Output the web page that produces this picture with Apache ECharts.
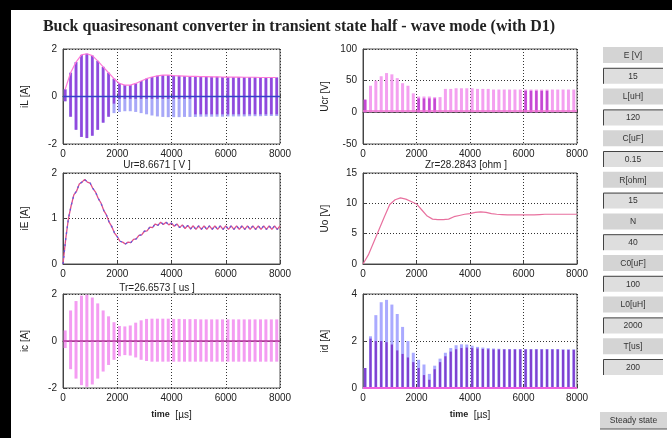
<!DOCTYPE html>
<html>
<head>
<meta charset="utf-8">
<script src="https://cdn.jsdelivr.net/npm/echarts@6/dist/echarts.min.js"></script>
<style>
  html, body { margin: 0; padding: 0; background: #fff; }
  #chart { width: 672px; height: 438px; }
</style>
</head>
<body>
<div id="chart"></div>
<script>
// one vertical stroke per switching cycle (T = 200 us)
const cycleT = [80, 280, 480, 680, 880, 1080, 1280, 1480, 1680, 1880,
  2080, 2280, 2480, 2680, 2880, 3080, 3280, 3480, 3680, 3880,
  4080, 4280, 4480, 4680, 4880, 5080, 5280, 5480, 5680, 5880,
  6080, 6280, 6480, 6680, 6880, 7080, 7280, 7480, 7680, 7880];

// iL [A] envelope
const iLHigh = [0.3, 1.0, 1.45, 1.75, 1.8, 1.72, 1.5, 1.25, 1.0, 0.75,
  0.55, 0.48, 0.48, 0.55, 0.65, 0.75, 0.82, 0.87, 0.9, 0.9,
  0.88, 0.87, 0.86, 0.85, 0.85, 0.84, 0.84, 0.83, 0.83, 0.82,
  0.82, 0.82, 0.82, 0.81, 0.81, 0.81, 0.8, 0.8, 0.8, 0.8];
const iLLow = [-0.2, -0.85, -1.4, -1.7, -1.75, -1.65, -1.4, -1.1, -0.85, -0.7,
  -0.65, -0.62, -0.62, -0.65, -0.7, -0.75, -0.8, -0.84, -0.86, -0.87,
  -0.87, -0.87, -0.86, -0.86, -0.86, -0.85, -0.85, -0.85, -0.85, -0.85,
  -0.84, -0.84, -0.84, -0.84, -0.83, -0.83, -0.83, -0.82, -0.82, -0.82];
// lower end of the purple trace
const iLLowP = [-0.2, -0.85, -1.4, -1.7, -1.75, -1.65, -1.4, -1.1, -0.85, -0.3,
  -0.1, -0.1, -0.1, -0.1, -0.1, -0.1, -0.1, -0.1, -0.1, -0.1,
  -0.1, -0.1, -0.1, -0.1, -0.75, -0.75, -0.75, -0.75, -0.75, -0.75,
  -0.75, -0.75, -0.75, -0.75, -0.75, -0.75, -0.75, -0.75, -0.75, -0.75];

// Ucr [V]
const ucHigh = [20, 42, 50, 57, 62, 60, 54, 46, 42, 30,
  25, 25, 25, 24, 24, 37, 37, 38, 38, 38,
  38, 37, 37, 37, 36, 36, 36, 36, 36, 36,
  36, 36, 36, 36, 36, 36, 36, 36, 36, 36];
const ucDark = [20, null, null, null, null, null, null, null, null, null,
  22, 22, 22, 22, null, null, null, null, null, null,
  null, null, null, null, null, null, null, null, null, null,
  34, 34, 34, 34, 34, null, null, null, null, null];
const ucBase = 2;

// iE [A], sampled every 100 us
const iETime = [0, 100, 200, 300, 400, 500, 600, 700, 800, 900,
  1000, 1100, 1200, 1300, 1400, 1500, 1600, 1700, 1800, 1900,
  2000, 2100, 2200, 2300, 2400, 2500, 2600, 2700, 2800, 2900,
  3000, 3100, 3200, 3300, 3400, 3500, 3600, 3700, 3800, 3900,
  4000, 4100, 4200, 4300, 4400, 4500, 4600, 4700, 4800, 4900,
  5000, 5100, 5200, 5300, 5400, 5500, 5600, 5700, 5800, 5900,
  6000, 6100, 6200, 6300, 6400, 6500, 6600, 6700, 6800, 6900,
  7000, 7100, 7200, 7300, 7400, 7500, 7600, 7700, 7800, 7900, 8000];
const iEValues = [0.0, 0.55, 1.0, 1.28, 1.52, 1.6, 1.76, 1.8, 1.86, 1.8,
  1.78, 1.66, 1.58, 1.44, 1.34, 1.18, 1.08, 0.92, 0.82, 0.68,
  0.6, 0.5, 0.48, 0.44, 0.48, 0.47, 0.54, 0.55, 0.63, 0.64,
  0.72, 0.73, 0.81, 0.8, 0.88, 0.85, 0.92, 0.87, 0.92, 0.86,
  0.9, 0.83, 0.88, 0.8, 0.86, 0.78, 0.85, 0.77, 0.84, 0.76,
  0.84, 0.76, 0.84, 0.76, 0.84, 0.76, 0.84, 0.76, 0.84, 0.76,
  0.84, 0.76, 0.84, 0.76, 0.84, 0.76, 0.84, 0.76, 0.84, 0.76,
  0.84, 0.76, 0.84, 0.76, 0.84, 0.76, 0.84, 0.76, 0.84, 0.76, 0.84];

// Uo [V], sampled every 200 us
const uoTime = [0, 200, 400, 600, 800, 1000, 1200, 1400, 1600, 1800,
  2000, 2200, 2400, 2600, 2800, 3000, 3200, 3400, 3600, 3800,
  4000, 4200, 4400, 4600, 4800, 5000, 5200, 5400, 5600, 5800,
  6000, 6200, 6400, 6600, 6800, 7000, 7200, 7400, 7600, 7800, 8000];
const uoValues = [0, 1.5, 3.6, 5.7, 7.8, 9.8, 10.6, 10.9, 10.7, 10.3,
  9.9, 8.9, 7.9, 7.4, 7.3, 7.3, 7.4, 7.8, 8.0, 8.2,
  8.3, 8.5, 8.6, 8.5, 8.3, 8.2, 8.15, 8.1, 8.1, 8.1,
  8.1, 8.1, 8.1, 8.15, 8.2, 8.2, 8.2, 8.2, 8.2, 8.2, 8.2];

// ic [A]
const icHigh = [0.45, 1.3, 1.7, 1.93, 1.97, 1.85, 1.6, 1.3, 1.05, 0.8,
  0.64, 0.62, 0.66, 0.78, 0.88, 0.94, 0.95, 0.95, 0.95, 0.95,
  0.94, 0.94, 0.93, 0.93, 0.93, 0.92, 0.92, 0.92, 0.92, 0.92,
  0.92, 0.92, 0.92, 0.92, 0.92, 0.92, 0.92, 0.92, 0.92, 0.92];
const icLow = [-0.3, -1.2, -1.6, -1.88, -1.95, -1.85, -1.6, -1.3, -1.02, -0.8,
  -0.65, -0.6, -0.62, -0.7, -0.8, -0.85, -0.88, -0.88, -0.88, -0.88,
  -0.88, -0.88, -0.88, -0.88, -0.88, -0.88, -0.88, -0.88, -0.88, -0.88,
  -0.88, -0.88, -0.88, -0.88, -0.88, -0.88, -0.88, -0.88, -0.88, -0.88];

// id [A]
const idBlue = [0.85, 2.2, 3.1, 3.65, 3.75, 3.55, 3.15, 2.6, 2.0, 1.5,
  1.2, 1.0, 0.6, 0.95, 1.25, 1.5, 1.7, 1.82, 1.86, 1.85,
  1.8, 1.75, 1.72, 1.7, 1.68, 1.67, 1.66, 1.66, 1.66, 1.66,
  1.66, 1.66, 1.66, 1.66, 1.66, 1.66, 1.66, 1.65, 1.65, 1.65];
const idPurple = [0.85, 2.1, 2.0, 2.0, 1.95, 1.85, 1.6, 1.45, 1.3, 1.1,
  0.85, 0.55, 0.35, 0.8, 1.1, 1.35, 1.55, 1.65, 1.7, 1.72,
  1.7, 1.68, 1.66, 1.65, 1.64, 1.64, 1.64, 1.64, 1.64, 1.64,
  1.64, 1.64, 1.64, 1.64, 1.64, 1.64, 1.64, 1.62, 1.62, 1.62];

// side panel (labels and edit boxes)
const panelTexts = ['E [V]', '15', 'L[uH]', '120', 'C[uF]', '0.15', 'R[ohm]', '15',
  'N', '40', 'C0[uF]', '100', 'L0[uH]', '2000', 'T[us]', '200'];

const xTicks = { min: 0, max: 8000, interval: 2000 };

const chart = echarts.init(document.getElementById('chart'), null, { renderer: 'canvas' });

const FONT = '"Liberation Sans", Arial, sans-serif';

// left/top/width/height of the six axes
const grids = [
  { left: 63, top: 49, width: 217, height: 95 },
  { left: 363, top: 49, width: 214, height: 95 },
  { left: 63, top: 173, width: 217, height: 91 },
  { left: 363, top: 173, width: 214, height: 91 },
  { left: 63, top: 294, width: 217, height: 94 },
  { left: 363, top: 294, width: 214, height: 94 }
];

const plain = v => String(v);

function xAxisFor(i, named) {
  return {
    type: 'value', gridIndex: i, min: xTicks.min, max: xTicks.max, interval: xTicks.interval,
    axisLine: { show: true, lineStyle: { color: '#444', width: 1 } },
    axisTick: { show: true, inside: true, length: 3, lineStyle: { color: '#444' } },
    axisLabel: { fontSize: 10, color: '#222', margin: 5, fontFamily: FONT, formatter: plain },
    splitLine: { show: true, lineStyle: { color: '#333', type: [1, 2], width: 1 } },
    name: named ? '{b|time}  [µs]' : '',
    nameLocation: 'middle', nameGap: 22,
    nameTextStyle: { fontSize: 10, color: '#222', fontFamily: FONT,
      rich: { b: { fontSize: 9, fontWeight: 'bold', color: '#222', fontFamily: FONT } } }
  };
}

function yAxisFor(i, min, max, interval, name) {
  return {
    type: 'value', gridIndex: i, min, max, interval,
    axisLine: { show: true, lineStyle: { color: '#444', width: 1 } },
    axisTick: { show: true, inside: true, length: 3, lineStyle: { color: '#444' } },
    axisLabel: { fontSize: 10, color: '#222', margin: 6, fontFamily: FONT, formatter: plain },
    splitLine: { show: true, lineStyle: { color: '#333', type: [1, 2], width: 1 } },
    name, nameLocation: 'middle', nameRotate: 90, nameGap: 33,
    nameTextStyle: { fontSize: 10, color: '#222', fontFamily: FONT }
  };
}

// vertical strokes through the axis scales
function strokes(idx, lo, hi, color, width, z) {
  return {
    type: 'custom', xAxisIndex: idx, yAxisIndex: idx, clip: true, silent: true, z,
    encode: { x: 0, y: [1, 2] },
    data: cycleT.map((t, k) => [t, Array.isArray(lo) ? lo[k] : lo, hi[k] == null ? '-' : hi[k]]),
    renderItem(params, api) {
      const a = api.value(1), b = api.value(2);
      if (isNaN(b)) return null;
      const p1 = api.coord([api.value(0), a]);
      const p2 = api.coord([api.value(0), b]);
      return {
        type: 'line',
        shape: { x1: p1[0], y1: p1[1], x2: p2[0], y2: p2[1] },
        style: { stroke: color, lineWidth: width }
      };
    }
  };
}

function flat(idx, value, color, width, z) {
  return {
    type: 'line', xAxisIndex: idx, yAxisIndex: idx, silent: true, symbol: 'none', z,
    data: [[xTicks.min, value], [xTicks.max, value]],
    lineStyle: { color, width }
  };
}

function curve(idx, times, values, color, width, type, z) {
  return {
    type: 'line', xAxisIndex: idx, yAxisIndex: idx, silent: true, symbol: 'none', z,
    data: times.map((t, k) => [t, values[k]]),
    lineStyle: { color, width, type: type || 'solid' }
  };
}

// panel graphics
const panel = [];
const py0 = 47, pstep = 20.8, ph = 16;
panelTexts.forEach((txt, k) => {
  const y = py0 + k * pstep;
  const isEdit = k % 2 === 1;
  panel.push({ type: 'rect', shape: { x: 603, y, width: 60, height: ph },
    style: { fill: isEdit ? '#dedede' : '#d4d4d4' }, z: 10 });
  if (isEdit) {
    panel.push({ type: 'polyline', shape: { points: [[603.5, y + ph], [603.5, y + 0.5], [663, y + 0.5]] },
      style: { stroke: '#444', lineWidth: 1, fill: null }, z: 11 });
  }
  panel.push({ type: 'text', x: 633, y: y + ph / 2 + 0.5, z: 12,
    style: { text: txt, font: '8.5px ' + FONT, fill: '#333', textAlign: 'center', textVerticalAlign: 'middle' } });
});
panel.push({ type: 'rect', shape: { x: 600, y: 412, width: 67, height: 17 }, style: { fill: '#d6d6d6' }, z: 10 });
panel.push({ type: 'line', shape: { x1: 600, y1: 429, x2: 667, y2: 429 }, style: { stroke: '#555', lineWidth: 1 }, z: 11 });
panel.push({ type: 'text', x: 633.5, y: 421, z: 12,
  style: { text: 'Steady state', font: '8.5px ' + FONT, fill: '#333', textAlign: 'center', textVerticalAlign: 'middle' } });

const option = {
  animation: false,
  backgroundColor: '#ffffff',
  grid: grids.map(g => Object.assign({ show: true, borderColor: '#555', borderWidth: 1, backgroundColor: '#fff', containLabel: false }, g)),
  xAxis: [xAxisFor(0), xAxisFor(1), xAxisFor(2), xAxisFor(3), xAxisFor(4, true), xAxisFor(5, true)],
  yAxis: [
    yAxisFor(0, -2, 2, 2, 'iL [A]'),
    yAxisFor(1, -50, 100, 50, 'Ucr [V]'),
    yAxisFor(2, 0, 2, 1, 'iE [A]'),
    yAxisFor(3, 0, 15, 5, 'Uo [V]'),
    yAxisFor(4, -2, 2, 2, 'ic [A]'),
    yAxisFor(5, 0, 4, 2, 'id [A]')
  ],
  graphic: [
    { type: 'rect', shape: { x: 0, y: 0, width: 672, height: 10 }, style: { fill: '#000' }, z: 20 },
    { type: 'rect', shape: { x: 0, y: 0, width: 11, height: 438 }, style: { fill: '#000' }, z: 20 },
    { type: 'text', x: 299, y: 27, z: 20,
      style: { text: 'Buck quasiresonant converter in transient state half - wave mode (with D1)',
        font: 'bold 16px "Liberation Serif", "Times New Roman", serif', fill: '#222',
        textAlign: 'center', textVerticalAlign: 'middle' } },
    { type: 'text', x: 157, y: 165, z: 20,
      style: { text: 'Ur=8.6671 [ V ]', font: '10px ' + FONT, fill: '#222', textAlign: 'center', textVerticalAlign: 'middle' } },
    { type: 'text', x: 466, y: 165, z: 20,
      style: { text: 'Zr=28.2843 [ohm ]', font: '10px ' + FONT, fill: '#222', textAlign: 'center', textVerticalAlign: 'middle' } },
    { type: 'text', x: 157, y: 288, z: 20,
      style: { text: 'Tr=26.6573 [ us ]', font: '10px ' + FONT, fill: '#222', textAlign: 'center', textVerticalAlign: 'middle' } }
  ].concat(panel),
  series: [
    // iL
    strokes(0, iLLow, iLHigh, '#a8a8f8', 3, 2),
    strokes(0, iLLowP, iLHigh, '#9248dc', 2.5, 3),
    curve(0, cycleT, iLHigh, '#ff7ad8', 1.2, 'solid', 4),
    flat(0, 0, '#3444c8', 1.5, 5),
    // Ucr
    strokes(1, 0, ucHigh, '#f4a0f0', 3, 2),
    strokes(1, 0, ucDark, '#c448d4', 2.5, 3),
    flat(1, ucBase, '#f070d0', 1.5, 4),
    // iE
    curve(2, iETime, iEValues, '#e0508a', 1.3, 'solid', 3),
    curve(2, iETime, iEValues, '#5c5ce0', 1.3, [2, 4], 4),
    // Uo
    curve(3, uoTime, uoValues, '#e8709e', 1.2, 'solid', 3),
    // ic
    strokes(4, icLow, icHigh, '#f49cf2', 3, 2),
    flat(4, 0, '#b83aa0', 1.5, 4),
    // id
    strokes(5, 0, idBlue, '#aaaaff', 3, 2),
    strokes(5, 0, idPurple, '#8040d0', 2.2, 3),
    flat(5, 0, '#f060e0', 2, 4)
  ]
};

chart.setOption(option);
</script>
</body>
</html>
